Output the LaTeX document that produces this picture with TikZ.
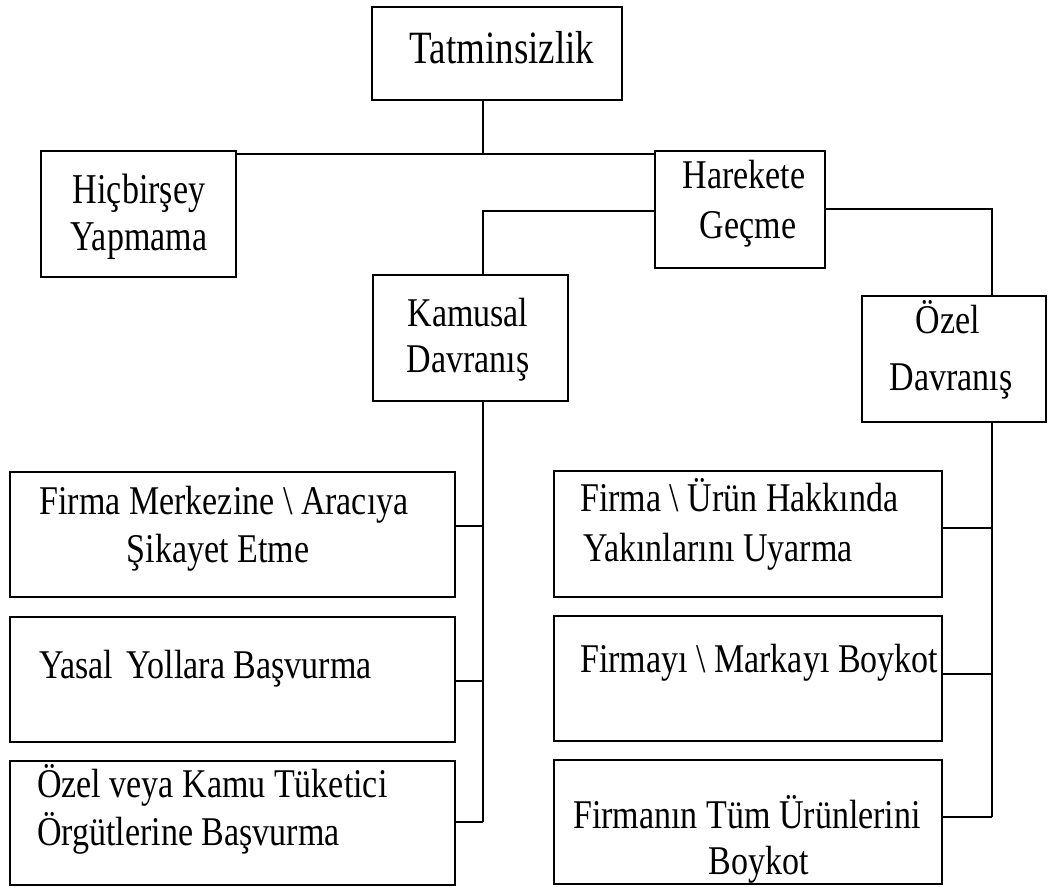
\documentclass[tikz,border=0pt]{standalone}
\usepackage{fontspec}
\usepackage{graphicx}
\setmainfont{Liberation Serif}
\newcommand{\vst}[2][1.2]{\scalebox{1}[#1]{#2}}
\begin{document}
\begin{tikzpicture}[x=1pt,y=-1pt,
  box/.style={draw, line width=1.5pt, inner sep=0pt},
  link/.style={line width=1.5pt},
  txt/.style={font=\fontsize{34}{40}\selectfont, inner sep=0pt, anchor=base},
  txtw/.style={font=\fontsize{34}{40}\selectfont, inner sep=0pt, anchor=base west}]
\useasboundingbox (0,0) rectangle (1049,889);
% boxes
\node[box, minimum width=250pt, minimum height=93pt] (T) at (497,53.5) {};
\node[box, minimum width=195pt, minimum height=126pt] (H) at (138.5,214) {};
\node[box, minimum width=170pt, minimum height=117pt] (G) at (740,209.5) {};
\node[box, minimum width=195pt, minimum height=126pt] (K) at (470.5,338) {};
\node[box, minimum width=184pt, minimum height=126pt] (O) at (954,359) {};
\node[box, minimum width=445pt, minimum height=125pt] (L1) at (232.5,534.5) {};
\node[box, minimum width=445pt, minimum height=125pt] (L2) at (232.5,679.5) {};
\node[box, minimum width=445pt, minimum height=124pt] (L3) at (232.5,823) {};
\node[box, minimum width=388pt, minimum height=126pt] (R1) at (748,534) {};
\node[box, minimum width=388pt, minimum height=125pt] (R2) at (748,678.5) {};
\node[box, minimum width=388pt, minimum height=124pt] (R3) at (748,822) {};
% texts
\node[txt, font=\fontsize{37}{42}\selectfont] (t1) at (502,63) {\vst[1.25]{Tatminsizlik}};
\node[txt] (h1) at (139,203) {\vst[1.25]{Hiçbirşey}};
\node[txt] (h2) at (139,250) {\vst[1.25]{Yapmama}};
\node[txt] (g1) at (744,188) {\vst{Harekete}};
\node[txt] (g2) at (748,238) {\vst{Geçme}};
\node[txt] (k1) at (468,326) {\vst{Kamusal}};
\node[txt] (k2) at (468,372) {\vst{Davranış}};
\node[txt] (o1) at (948,333) {\vst{Özel}};
\node[txt] (o2) at (951,390) {\vst{Davranış}};
\node[txt] (l11) at (224,514) {\vst{Firma Merkezine \textbackslash{} Aracıya}};
\node[txt] (l12) at (218,562) {\vst{Şikayet Etme}};
\node[txtw] (l21) at (39,678) {\vst{Yasal\hspace{0.4em}Yollara Başvurma}};
\node[txtw] (l31) at (37,797) {\vst{Özel veya Kamu Tüketici}};
\node[txtw] (l32) at (37,845) {\vst{Örgütlerine Başvurma}};
\node[txtw] (r11) at (580,511) {\vst{Firma \textbackslash{} Ürün Hakkında}};
\node[txtw] (r12) at (583,561) {\vst{Yakınlarını Uyarma}};
\node[txtw] (r21) at (580,672) {\vst{Firmayı \textbackslash{} Markayı Boykot}};
\node[txt] (r31) at (747,828) {\vst{Firmanın Tüm Ürünlerini}};
\node[txt] (r32) at (759,874) {\vst{Boykot}};
% junctions
\coordinate (j1) at (483,154);
\coordinate (j2) at (483,211);
\coordinate (j3) at (992,209);
\coordinate (ka) at (483,526);
\coordinate (kb) at (483,681);
\coordinate (kc) at (483,822);
\coordinate (oa) at (992,528);
\coordinate (ob) at (992,674);
\coordinate (oc) at (992,817);
% connectors
\draw[link] (j1 |- T.south) -- (j1);
\draw[link] (H.east |- j1) -- (G.west |- j1);
\draw[link] (G.west |- j2) -- (j2) -- (j2 |- K.north);
\draw[link] (G.east |- j3) -- (j3) -- (j3 |- O.north);
\draw[link] (ka |- K.south) -- (kc);
\draw[link] (ka) -- (ka -| L1.east);
\draw[link] (kb) -- (kb -| L2.east);
\draw[link] (kc) -- (kc -| L3.east);
\draw[link] (oa |- O.south) -- (oc);
\draw[link] (oa) -- (oa -| R1.east);
\draw[link] (ob) -- (ob -| R2.east);
\draw[link] (oc) -- (oc -| R3.east);
\end{tikzpicture}
\end{document}
